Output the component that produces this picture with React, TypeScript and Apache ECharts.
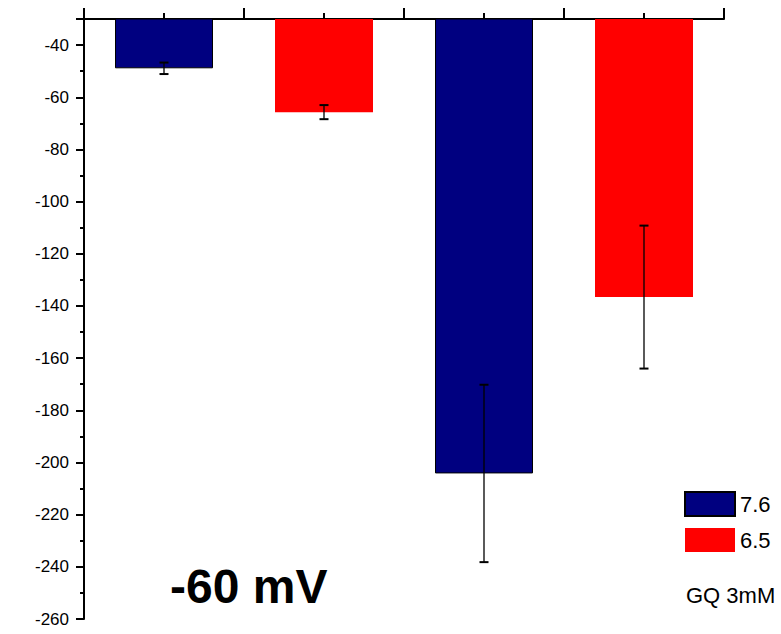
import React, { useEffect, useRef } from "react";
import * as echarts from "echarts";

const categories = ["7.6 a", "6.5 a", "7.6 b", "6.5 b"];
const seriesNames = ["7.6", "6.5"];
const seriesOfCategory = [0, 1, 0, 1];
const means = [-48.9, -65.7, -204.2, -136.6];
const errors = [2.2, 2.7, 34.0, 27.4];
const colors = ["#000080", "#ff0000"];
const yMin = -260;
const yMax = -30;
const yInterval = 20;

const FONT = "'Liberation Sans', Arial, sans-serif";

export default function App() {
  const ref = useRef<HTMLDivElement>(null);
  useEffect(() => {
    if (!ref.current) return;
    const chart = echarts.init(ref.current, null, { renderer: "svg" });

    const barSeries = seriesNames.map((name, s) => ({
      name,
      type: "bar",
      xAxisIndex: 0,
      yAxisIndex: 0,
      barWidth: 98,
      barGap: "-100%",
      clip: true,
      itemStyle: {
        color: colors[s],
        borderColor: s === 0 ? "#000" : colors[s],
        borderWidth: s === 0 ? 1 : 0,
      },
      data: categories
        .map((_, i) => (seriesOfCategory[i] === s ? [i + 0.5, means[i]] : null))
        .filter((d) => d !== null),
      z: 2,
    }));

    const errData = categories.map((_, i) => [i + 0.5, means[i] - errors[i], means[i] + errors[i]]);

    const option = {
      animation: false,
      backgroundColor: "#fff",
      grid: { left: 84, right: 57, top: 19, bottom: 15, containLabel: false },
      legend: {
        data: seriesNames,
        orient: "vertical",
        left: 684,
        top: 491,
        padding: 0,
        itemWidth: 50,
        itemHeight: 24,
        itemGap: 11,
        icon: "rect",
        textStyle: { fontSize: 22, color: "#000", fontFamily: FONT },
      },
      xAxis: {
        type: "value",
        position: "top",
        min: 0,
        max: categories.length,
        interval: 1,
        axisLine: { show: true, onZero: false, lineStyle: { color: "#000", width: 2 } },
        axisTick: { show: true, length: 11, lineStyle: { color: "#000", width: 2 } },
        minorTick: { show: true, splitNumber: 2, length: 6, lineStyle: { color: "#000", width: 2 } },
        axisLabel: { show: false },
        splitLine: { show: false },
        minorSplitLine: { show: false },
      },
      yAxis: {
        type: "value",
        min: yMin,
        max: yMax,
        interval: yInterval,
        axisLine: { show: true, onZero: false, lineStyle: { color: "#000", width: 2 } },
        axisTick: { show: true, length: 8, lineStyle: { color: "#000", width: 2 } },
        minorTick: { show: true, splitNumber: 2, length: 4, lineStyle: { color: "#000", width: 2 } },
        axisLabel: {
          showMaxLabel: false,
          margin: 15,
          fontSize: 17,
          color: "#000",
          fontFamily: FONT,
          formatter: (v: number) => (v === yMax ? "" : String(v)),
        },
        splitLine: { show: false },
      },
      series: [
        ...barSeries,
        {
          type: "custom",
          name: "err",
          data: errData,
          z: 5,
          encode: { x: 0, y: [1, 2] },
          renderItem: (params: any, api: any) => {
            const x = api.value(0);
            const lo = api.coord([x, api.value(1)]);
            const hi = api.coord([x, api.value(2)]);
            const half = 4.5;
            return {
              type: "group",
              children: [
                {
                  type: "line",
                  shape: { x1: lo[0], y1: lo[1], x2: hi[0], y2: hi[1] },
                  style: { stroke: "#000", lineWidth: 1.3 },
                },
                {
                  type: "line",
                  shape: { x1: lo[0] - half, y1: lo[1], x2: lo[0] + half, y2: lo[1] },
                  style: { stroke: "#000", lineWidth: 2 },
                },
                {
                  type: "line",
                  shape: { x1: hi[0] - half, y1: hi[1], x2: hi[0] + half, y2: hi[1] },
                  style: { stroke: "#000", lineWidth: 2 },
                },
              ],
            };
          },
        },
      ],
      graphic: [
        {
          type: "text",
          left: 170,
          top: 562,
          style: {
            text: "-60 mV",
            fontSize: 48,
            fontWeight: "bold",
            fill: "#000",
            fontFamily: FONT,
          },
        },
        {
          type: "text",
          left: 686,
          top: 584,
          style: {
            text: "GQ 3mM",
            fontSize: 22,
            fill: "#000",
            fontFamily: FONT,
          },
        },
      ],
    };

    chart.setOption(option as any);
    return () => chart.dispose();
  }, []);

  return (
    <div
      ref={ref}
      style={{ position: "fixed", left: 0, top: 0, width: 781, height: 634, background: "#fff" }}
    />
  );
}
